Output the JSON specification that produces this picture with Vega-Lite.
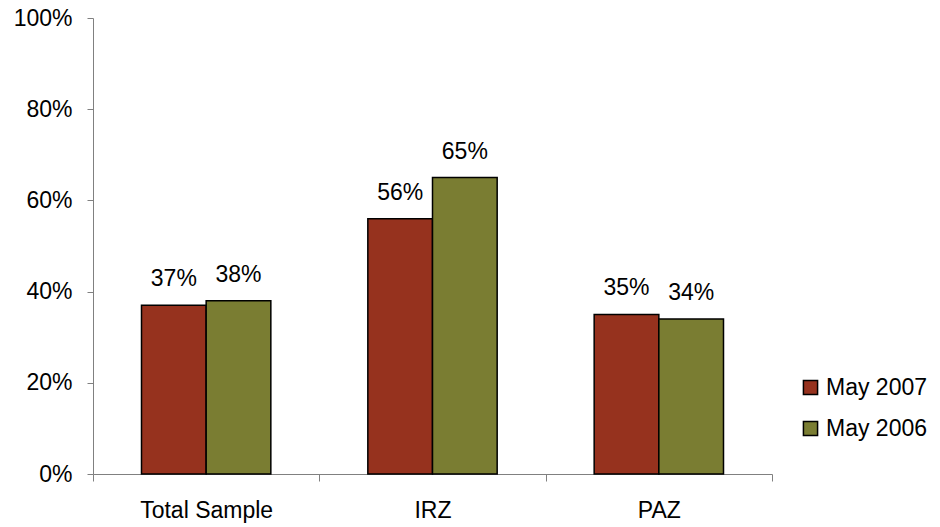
{
  "$schema": "https://vega.github.io/schema/vega-lite/v6.json",
  "width": 679,
  "height": 456,
  "autosize": {"type": "none"},
  "padding": {"left": 93, "top": 18, "right": 168, "bottom": 53},
  "background": "white",
  "config": {
    "view": {"stroke": null},
    "font": "Liberation Sans",
    "axis": {"grid": false, "domainColor": "#808080", "tickColor": "#808080", "labelColor": "black", "labelFontSize": 23, "labelFont": "Liberation Sans"}
  },
  "data": {
    "values": [
      {"group": "Total Sample", "period": "May 2007", "value": 0.37},
      {"group": "Total Sample", "period": "May 2006", "value": 0.38},
      {"group": "IRZ", "period": "May 2007", "value": 0.56},
      {"group": "IRZ", "period": "May 2006", "value": 0.65},
      {"group": "PAZ", "period": "May 2007", "value": 0.35},
      {"group": "PAZ", "period": "May 2006", "value": 0.34}
    ]
  },
  "encoding": {
    "x": {
      "field": "group", "type": "nominal", "sort": ["Total Sample", "IRZ", "PAZ"],
      "scale": {"paddingInner": 0, "paddingOuter": 0},
      "axis": {"title": null, "labelAngle": 0, "tickBand": "extent", "tickSize": 7, "labelPadding": 18}
    },
    "xOffset": {
      "field": "period", "type": "nominal", "sort": ["May 2007", "May 2006"],
      "scale": {"paddingInner": 0, "paddingOuter": 0.75}
    },
    "y": {
      "field": "value", "type": "quantitative",
      "scale": {"domain": [0, 1], "nice": false},
      "axis": {"title": null, "format": ".0%", "values": [0, 0.2, 0.4, 0.6, 0.8, 1], "tickSize": 6, "labelPadding": 15}
    }
  },
  "layer": [
    {
      "mark": {"type": "bar", "stroke": "black", "strokeWidth": 1.5},
      "encoding": {
        "color": {
          "field": "period", "type": "nominal",
          "scale": {"domain": ["May 2007", "May 2006"], "range": ["#96321E", "#7A7D32"]},
          "legend": {
            "title": null, "orient": "none", "legendX": 706, "legendY": 358,
            "symbolType": "square", "symbolSize": 200, "symbolStrokeColor": "black", "symbolStrokeWidth": 1.5,
            "labelFontSize": 23, "labelColor": "black", "labelFont": "Liberation Sans",
            "rowPadding": 17, "labelOffset": 4
          }
        }
      }
    },
    {
      "mark": {"type": "text", "baseline": "bottom", "dy": -14, "fontSize": 23, "color": "black"},
      "encoding": {
        "text": {"field": "value", "type": "quantitative", "format": ".0%"}
      }
    }
  ]
}
